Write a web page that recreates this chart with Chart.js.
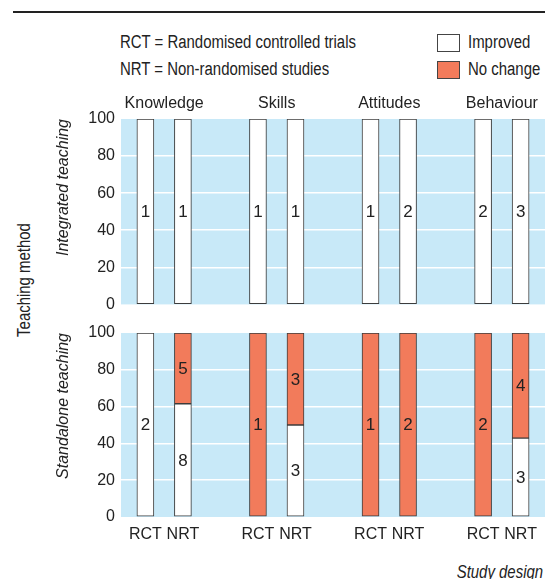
<!DOCTYPE html>
<html>
<head>
<meta charset="utf-8">
<script src="https://cdn.jsdelivr.net/npm/chart.js@4.4.1/dist/chart.umd.min.js"></script>
<style>
  body { margin: 0; background: #fff; }
  #wrap { position: relative; width: 545px; height: 579px; overflow: hidden;
          font-family: "Liberation Sans", Arial, sans-serif; color: #222; font-size: 18px; }
  .t { position: absolute; white-space: nowrap; line-height: 18px; transform: scaleX(0.83); transform-origin: 0 0; }
  .box { position: absolute; width: 21px; height: 16px; border: 1px solid #444; }
  canvas { position: absolute; left: 0; }
</style>
</head>
<body>
<div id="wrap">
  <div style="position:absolute;left:13px;top:11px;width:532px;height:1.5px;background:#222"></div>

  <div class="t" style="left:120px;top:33px">RCT = Randomised controlled trials</div>
  <div class="t" style="left:120px;top:59.5px">NRT = Non-randomised studies</div>
  <div class="box" style="left:437px;top:34px;background:#fff"></div>
  <div class="box" style="left:437px;top:61px;background:#f27b5b"></div>
  <div class="t" style="left:468px;top:33px">Improved</div>
  <div class="t" style="left:468px;top:59.5px">No change</div>

  <div class="t" style="left:24px;top:280px;transform-origin:50% 50%;transform:translate(-50%,-50%) rotate(-90deg) scaleX(0.83)">Teaching method</div>
  <div class="t" style="right:2px;top:563px;font-style:italic;transform-origin:100% 0">Study design</div>

  <canvas id="topChart" width="545" height="240" style="top:80px"></canvas>
  <canvas id="bottomChart" width="545" height="250" style="top:310px"></canvas>
</div>

<script>
const FONT = '"Liberation Sans", Arial, sans-serif';
const BLUE = '#c8e9f8';
const ORANGE = '#f27b5b';

// data
const groups = ['Knowledge', 'Skills', 'Attitudes', 'Behaviour'];
const designs = ['RCT', 'NRT'];
const yTicks = [0, 20, 40, 60, 80, 100];
// number of studies per bar: Knowledge RCT, Knowledge NRT, Skills RCT, Skills NRT, ...
const integratedImproved = [1, 1, 1, 1, 1, 2, 2, 3];
const integratedNoChange = [0, 0, 0, 0, 0, 0, 0, 0];
const standaloneImproved = [2, 8, 0, 3, 0, 0, 0, 3];
const standaloneNoChange = [0, 5, 1, 3, 1, 2, 2, 4];

// bar slot positions: two bars per group, one empty slot between groups
const barPos = [];
groups.forEach((g, gi) => designs.forEach((d, di) => barPos.push(gi * 3 + di)));

const pct = (a, b) => a.map((v, i) => (v + b[i]) ? v / (v + b[i]) * 100 : 0);

const makeDatasets = (improved, noChange) => {
    const pi = pct(improved, noChange);
    const pn = pct(noChange, improved);
    return [
        { label: 'Improved', counts: improved, data: barPos.map((x, i) => ({ x: x, y: pi[i] })),
          backgroundColor: '#fff' },
        { label: 'No change', counts: noChange, data: barPos.map((x, i) => ({ x: x, y: pn[i] })),
          backgroundColor: ORANGE }
    ].map(ds => Object.assign(ds, { borderColor: '#3c3c3c', borderWidth: 1, borderSkipped: false, barThickness: 17 }));
};

// light blue panel behind the grid
const panelBg = {
    id: 'panelBg',
    beforeDraw(chart) {
        const { ctx, chartArea: a } = chart;
        ctx.save();
        ctx.fillStyle = BLUE;
        ctx.fillRect(a.left, a.top, a.right - a.left, a.bottom - a.top);
        ctx.restore();
    }
};

// study counts written inside each segment
const countLabels = {
    id: 'countLabels',
    afterDatasetsDraw(chart) {
        const ctx = chart.ctx;
        ctx.save();
        ctx.font = '17px ' + FONT;
        ctx.fillStyle = '#222';
        ctx.textAlign = 'center';
        ctx.textBaseline = 'middle';
        chart.data.datasets.forEach((ds, di) => {
            chart.getDatasetMeta(di).data.forEach((bar, i) => {
                const n = ds.counts[i];
                if (!n) return;
                ctx.fillText(n, bar.x, (bar.y + bar.base) / 2 + 1);
            });
        });
        ctx.restore();
    }
};

const tickFont = { family: FONT, size: 16 };

const createConfig = (improved, noChange, title, isTop) => ({
    type: 'bar',
    data: { datasets: makeDatasets(improved, noChange) },
    options: {
        responsive: false,
        animation: false,
        events: [],
        layout: { padding: isTop ? { top: 0, bottom: 0 } : { top: 23, bottom: 0 } },
        plugins: { legend: { display: false }, tooltip: { enabled: false } },
        scales: {
            x: {
                type: 'linear', stacked: true, offset: false, min: -0.65, max: 10.65,
                display: !isTop,
                grid: { display: false }, border: { display: false },
                afterBuildTicks: s => { s.ticks = barPos.map(v => ({ value: v })); },
                afterFit: s => { if (!isTop) s.height = 43; },
                ticks: { autoSkip: false, maxRotation: 0, padding: 0, color: '#222', font: tickFont,
                         callback: v => designs[Math.round(v) % 3] }
            },
            x2: {
                type: 'linear', position: 'top', offset: false, min: -0.65, max: 10.65,
                display: isTop,
                grid: { display: false }, border: { display: false },
                afterBuildTicks: s => { s.ticks = groups.map((g, i) => ({ value: i * 3 + 0.5 })); },
                afterFit: s => { if (isTop) s.height = 39; },
                ticks: { autoSkip: false, maxRotation: 0, padding: -2, color: '#222', font: tickFont,
                         callback: v => groups[Math.round((v - 0.5) / 3)] }
            },
            y: {
                stacked: true, min: 0, max: 100,
                afterBuildTicks: s => { s.ticks = yTicks.map(v => ({ value: v })); },
                afterFit: s => { s.width = 121; },
                border: { display: false },
                grid: { drawTicks: false, lineWidth: 1.5,
                        color: c => (c.tick && c.tick.value > 0 && c.tick.value < 100) ? '#fff' : 'rgba(0,0,0,0)' },
                ticks: { padding: 6, color: '#222', font: tickFont },
                title: { display: true, text: title, align: 'end', color: '#222',
                         font: { family: FONT, size: 16, style: 'italic' }, padding: { top: 54, bottom: 0 } }
            }
        }
    },
    plugins: [panelBg, countLabels]
});

const topChart = new Chart(document.getElementById('topChart'),
    createConfig(integratedImproved, integratedNoChange, 'Integrated teaching', true));
const bottomChart = new Chart(document.getElementById('bottomChart'),
    createConfig(standaloneImproved, standaloneNoChange, 'Standalone teaching', false));
</script>
</body>
</html>
